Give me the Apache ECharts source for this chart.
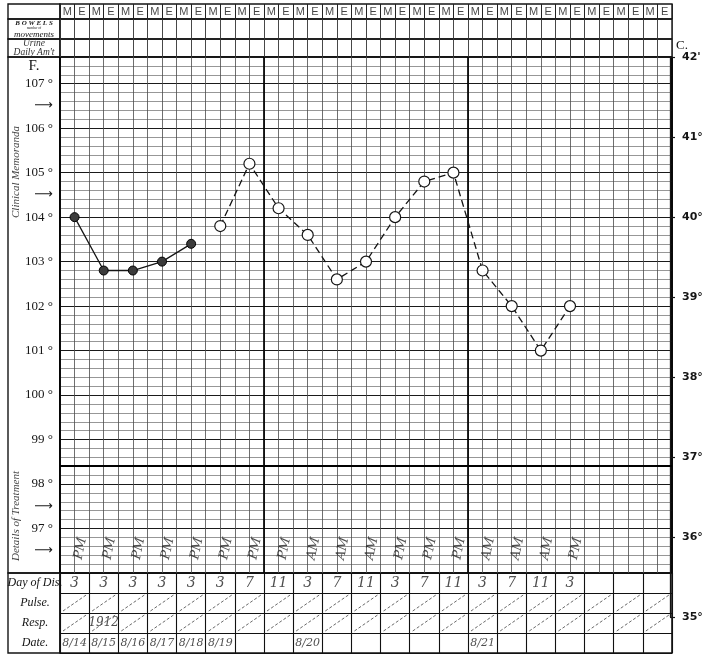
<!DOCTYPE html>
<html><head><meta charset="utf-8">
<script src="https://cdn.jsdelivr.net/npm/echarts@6/dist/echarts.min.js"></script>
<style>html,body{margin:0;padding:0;background:#fff}#c{width:713px;height:658px}</style>
</head><body><div id="c"></div>
<script>
// ---------------- data ----------------
const meLabels = ['M','E','M','E','M','E','M','E','M','E','M','E','M','E','M','E','M','E','M','E','M','E',
                  'M','E','M','E','M','E','M','E','M','E','M','E','M','E','M','E','M','E','M','E'];
const tempSolidF = [104.0, 102.8, 102.8, 103.0, 103.4];
const tempDashedF = [103.8, 105.2, 104.2, 103.6, 102.6, 103.0, 104.0, 104.8, 105.0, 102.8, 102.0, 101.0, 102.0];
const hourLabels = ['3','3','3','3','3','3','7','11','3','7','11','3','7','11','3','7','11','3'];
const meridiem = ['PM','PM','PM','PM','PM','PM','PM','PM','AM','AM','AM','PM','PM','PM','AM','AM','AM','PM'];
const dateLabels = ['8/14','8/15','8/16','8/17','8/18','8/19','','','8/20','','','','','','8/21','','',''];
const respLabels = ['','1912'];
const rowNames = ['Day of Dis.','Pulse.','Resp.','Date.'];
const fTickLabels = [97,98,99,100,101,102,103,104,105,106,107];
const arrowMarks = [106.5,104.5,97.5,96.5];
const cTicks = [35,36,37,38,39,40,41,42];
const cTickText = ['35°','36°','37°','38°','39°','40°','41°',"42'"];
const normalTempF = 98.4;
const dayCells = 21;
const halfDayCols = 42;

// ---------------- layout ----------------
const X0 = 60, W = 612, LX = 8, LW = 52;
const ROWS = { me:[4,15], bow:[19,20], ur:[39,18], temp:[57,516], bot:[573,80] };
const serif = 'Liberation Serif';
const ink = '#151515';

const grids = [], xAxes = [], yAxes = [], series = [];
const border = (w) => ({show:true, borderColor:ink, borderWidth:w, backgroundColor:'transparent'});
const hidden = {type:'value', show:false, min:0, max:1};
function grid(left, top, width, height, bw){
  grids.push(Object.assign({left, top, width, height}, border(bw)));
  return grids.length - 1;
}
function colAxis(gi, max, interval, color, width, extra){
  xAxes.push(Object.assign({gridIndex:gi, type:'value', min:0, max, interval,
    axisLine:{show:false}, axisTick:{show:false}, axisLabel:{show:false},
    splitLine:{show:true, lineStyle:{color, width}}}, extra||{}));
  return xAxes.length - 1;
}

// label column cells
[['me'],['bow'],['ur'],['temp'],['bot']].forEach(([k]) => {
  const gi = grid(LX, ROWS[k][0], LW, ROWS[k][1], 1.4);
  xAxes.push(Object.assign({gridIndex:gi}, hidden));
  yAxes.push(Object.assign({gridIndex:gi}, hidden));
});

// header: M/E row
const gME = grid(X0, ROWS.me[0], W, ROWS.me[1], 1.4);
const xME = colAxis(gME, halfDayCols, 1, '#222', 1);
yAxes.push({gridIndex:gME, type:'value', min:0, max:1, show:false});
const yME = yAxes.length - 1;
series.push({type:'scatter', xAxisIndex:xME, yAxisIndex:yME, symbolSize:0, silent:true,
  data: meLabels.map((t,j) => [j+0.5, 0.5, t]),
  label:{show:true, position:'inside', formatter:p => p.value[2], color:ink,
    fontFamily:'Liberation Sans', fontSize:11}});

// header: bowels row
const gBow = grid(X0, ROWS.bow[0], W, ROWS.bow[1], 1.4);
colAxis(gBow, halfDayCols, 1, '#333', 0.9);
yAxes.push({gridIndex:gBow, type:'category', data:['bowels'], axisLine:{show:false}, axisTick:{show:false},
  splitLine:{show:false},
  axisLabel:{show:true, align:'center', margin:26,
    formatter:() => '{b|B O W E L S}\n{s|number of}\n{m|movements}',
    rich:{ b:{fontFamily:serif, fontWeight:'bold', fontStyle:'italic', fontSize:7, lineHeight:7, color:ink},
           s:{fontFamily:serif, fontSize:3.5, lineHeight:4, color:ink},
           m:{fontFamily:serif, fontStyle:'italic', fontSize:9, lineHeight:8, color:ink} }}});

// header: urine row
const gUr = grid(X0, ROWS.ur[0], W, ROWS.ur[1], 1.4);
colAxis(gUr, halfDayCols, 1, '#333', 0.9);
yAxes.push({gridIndex:gUr, type:'category', data:['urine'], axisLine:{show:false}, axisTick:{show:false},
  splitLine:{show:false},
  axisLabel:{show:true, align:'center', margin:26,
    formatter:() => "{u|Urine}\n{u|Daily Am't}",
    rich:{ u:{fontFamily:serif, fontStyle:'italic', fontSize:9.5, lineHeight:9, color:'#333'} }}});

// temperature grid
const gT = grid(X0, ROWS.temp[0], W, ROWS.temp[1], 1.8);
const xT = colAxis(gT, halfDayCols, 1, '#4a4a4a', 0.8);
colAxis(gT, halfDayCols, 14, '#000', 1.7, {position:'top'});
const fAxisBase = {gridIndex:gT, type:'value', min:96, max:107.6, position:'left',
  axisLine:{show:false}, axisTick:{show:false}};
yAxes.push(Object.assign({}, fAxisBase, {interval:0.2, axisLabel:{show:false},
  splitLine:{show:true, lineStyle:{color:'#6a6a6a', width:0.7}}}));
const yT = yAxes.length - 1;
yAxes.push(Object.assign({}, fAxisBase, {interval:1, axisLabel:{show:false},
  splitLine:{show:true, lineStyle:{color:'#1a1a1a', width:1.1}}}));
yAxes.push(Object.assign({}, fAxisBase, {interval:0.5, splitLine:{show:false},
  name:'F.', nameLocation:'end', nameGap:-17,
  nameTextStyle:{fontFamily:serif, fontSize:15, color:ink, padding:[0,52,0,0]},
  axisLabel:{show:true, margin:7, color:ink, fontFamily:serif, fontSize:13,
    formatter:v => fTickLabels.includes(v) ? v + ' °' : (arrowMarks.includes(v) ? '{a|⟶}' : ''),
    rich:{a:{fontFamily:'DejaVu Sans', fontSize:13, color:ink}}}}));

series.push({name:'solid', type:'line', xAxisIndex:xT, yAxisIndex:yT, z:5,
  data: tempSolidF.map((v,i) => [2*i+1, v]),
  symbol:'circle', symbolSize:9,
  itemStyle:{color:'#3b3b3b', borderColor:'#000', borderWidth:1},
  lineStyle:{color:ink, width:1.3}});
series.push({name:'dashed', type:'line', xAxisIndex:xT, yAxisIndex:yT, z:5,
  data: tempDashedF.map((v,i) => [2*(i+tempSolidF.length)+1, v]),
  symbol:'circle', symbolSize:11,
  itemStyle:{color:'#fff', borderColor:ink, borderWidth:1.2},
  lineStyle:{color:ink, width:1.3, type:[7,4]},
  markLine:{silent:true, symbol:'none', label:{show:false},
    lineStyle:{color:'#000', width:2, type:'solid'}, data:[{yAxis:normalTempF}]}});
series.push({type:'scatter', xAxisIndex:xT, yAxisIndex:yT, symbolSize:0, silent:true,
  data: meridiem.map((t,i) => [2*i+1.4, 96.55, t]),
  label:{show:true, position:'inside', rotate:78, formatter:p => p.value[2], color:'#222',
    fontFamily:'DejaVu Serif', fontStyle:'italic', fontSize:13}});

// bottom table
const gB = grid(X0, ROWS.bot[0], W, ROWS.bot[1], 1.6);
const xB = colAxis(gB, dayCells, 1, '#111', 1.1);
yAxes.push({gridIndex:gB, type:'category', data:rowNames, inverse:true,
  axisLine:{show:false}, axisTick:{show:false},
  splitLine:{show:true, interval:0, lineStyle:{color:'#111', width:1.1}},
  axisLabel:{show:true, interval:0, align:'center', margin:25, color:ink,
    fontFamily:serif, fontStyle:'italic', fontSize:12}});
const yB = yAxes.length - 1;
const textSeries = (data, size) => ({type:'scatter', xAxisIndex:xB, yAxisIndex:yB, symbolSize:0, silent:true,
  data, label:{show:true, position:'inside', formatter:p => p.value[2], color:'#222',
    fontFamily:'DejaVu Serif', fontStyle:'italic', fontSize:size}});
series.push(textSeries(hourLabels.map((t,i) => [i+0.5, rowNames[0], t]), 14));
series.push(textSeries(respLabels.map((t,i) => [i+0.5, rowNames[2], t]).filter(d => d[2]), 12));
series.push(textSeries(dateLabels.map((t,i) => [i+0.5, rowNames[3], t]).filter(d => d[2]), 11));
const diagData = [];
[rowNames[1], rowNames[2]].forEach(r => { for (let i = 0; i < dayCells; i++) diagData.push([i, r]); });
series.push({type:'custom', xAxisIndex:xB, yAxisIndex:yB, silent:true, data:diagData,
  renderItem:(params, api) => {
    const p = api.coord([api.value(0), api.value(1)]);
    const s = api.size([1, 1]);
    return {type:'line', shape:{x1:p[0]+3, y1:p[1]+s[1]/2-2, x2:p[0]+s[0]-3, y2:p[1]-s[1]/2+2},
      style:{stroke:'#444', lineWidth:0.8, lineDash:[3,2]}};
  }});

// celsius axis
const gC = {left:670, top:57, width:10, height:560, show:false};
grids.push(gC);
const gCi = grids.length - 1;
xAxes.push(Object.assign({gridIndex:gCi}, hidden));
yAxes.push({gridIndex:gCi, type:'value', min:35, max:42, interval:1, position:'right',
  axisLine:{show:true, lineStyle:{color:ink, width:1.3}},
  axisTick:{show:true, length:5, lineStyle:{color:ink, width:1.2}},
  splitLine:{show:false},
  name:'C.', nameLocation:'end', nameGap:4,
  nameTextStyle:{fontFamily:serif, fontSize:13, color:ink, align:'left', padding:[0,0,0,6]},
  axisLabel:{show:true, margin:2, color:ink, fontFamily:'DejaVu Sans', fontSize:11, fontWeight:'bold',
    formatter:v => { const k = cTicks.indexOf(v); return k >= 0 ? cTickText[k] : ''; }}});

const chart = echarts.init(document.getElementById('c'), null, {renderer:'canvas'});
chart.setOption({
  animation:false,
  backgroundColor:'#fff',
  grid:grids, xAxis:xAxes, yAxis:yAxes, series,
  graphic:[
    {type:'text', x:16, y:172, rotation:Math.PI/2, silent:true,
      style:{text:'Clinical Memoranda', fill:'#444', font:'italic 11px "Liberation Serif"', textAlign:'center', textVerticalAlign:'middle'}},
    {type:'text', x:16, y:516, rotation:Math.PI/2, silent:true,
      style:{text:'Details of Treatment', fill:'#444', font:'italic 11px "Liberation Serif"', textAlign:'center', textVerticalAlign:'middle'}}
  ]
});
</script></body></html>
